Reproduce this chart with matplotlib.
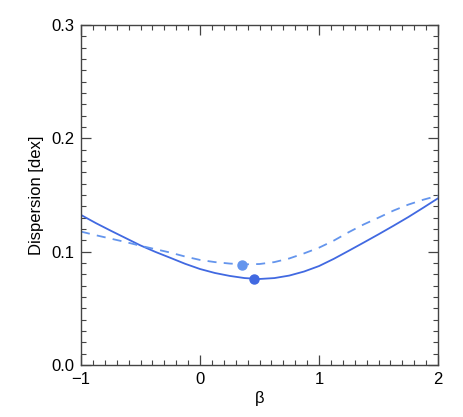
import matplotlib
matplotlib.use('Agg')
import matplotlib.pyplot as plt
from matplotlib.ticker import MultipleLocator

# valores (cada 0.125 en beta)
beta = [-1.0, -0.875, -0.75, -0.625, -0.5, -0.375, -0.25, -0.125, 0.0, 0.125, 0.25, 0.375,
        0.5, 0.625, 0.75, 0.875, 1.0, 1.125, 1.25, 1.375, 1.5, 1.625, 1.75, 1.875, 2.0]
disp_solid = [0.1324, 0.1252, 0.1185, 0.1120, 0.1055, 0.0998, 0.0946, 0.0893, 0.0847, 0.0812,
              0.0786, 0.0767, 0.0759, 0.0767, 0.0789, 0.0825, 0.0873, 0.0937, 0.1008, 0.1080,
              0.1153, 0.1228, 0.1305, 0.1387, 0.1471]
disp_dashed = [0.1177, 0.1145, 0.1115, 0.1085, 0.1052, 0.1022, 0.0992, 0.0957, 0.0927, 0.0908,
               0.0895, 0.0888, 0.0891, 0.0908, 0.0940, 0.0985, 0.1035, 0.1098, 0.1172, 0.1240,
               0.1300, 0.1362, 0.1415, 0.1458, 0.1494]

# minimos
min_solid = (0.451, 0.0759)
min_dashed = (0.350, 0.0885)

plt.rcParams['font.family'] = ['Liberation Sans', 'DejaVu Sans']

fig = plt.figure(figsize=(4.63, 4.17), dpi=100)
ax = fig.add_axes([81 / 463, 1 - 365 / 417, (438 - 81) / 463, (365 - 25) / 417])

ax.plot(beta, disp_solid, color='#4169E1', lw=1.3)
ax.plot(beta, disp_dashed, color='#6495ED', lw=1.3, ls=(0, (5, 4)))
ax.plot(*min_dashed, 'o', color='#6495ED', ms=6.5)
ax.plot(*min_solid, 'o', color='#4169E1', ms=6.5)

ax.set_xlim(-1, 2)
ax.set_ylim(0, 0.3)
ax.xaxis.set_minor_locator(MultipleLocator(0.1))
ax.yaxis.set_minor_locator(MultipleLocator(0.01))
ax.set_yticks([0, 0.1, 0.2, 0.3])
ax.set_yticklabels(['0.0', '0.1', '0.2', '0.3'])
ax.set_xticks([-1, 0, 1, 2])
ax.set_xticklabels(['\u22121', '0', '1', '2'])

ax.tick_params(which='both', direction='in', top=True, right=True, colors='#444444',
               labelcolor='black', labelsize=12)
ax.tick_params(which='major', length=7, width=0.9, pad=5)
ax.tick_params(which='minor', length=3.5, width=0.8)
for s in ax.spines.values():
    s.set_color('#444444')
    s.set_linewidth(1.0)

ax.set_xlabel('\u03b2', fontsize=12, labelpad=3)
ax.set_ylabel('Dispersion [dex]', fontsize=12, labelpad=5)

fig.savefig('out.png', dpi=100)
